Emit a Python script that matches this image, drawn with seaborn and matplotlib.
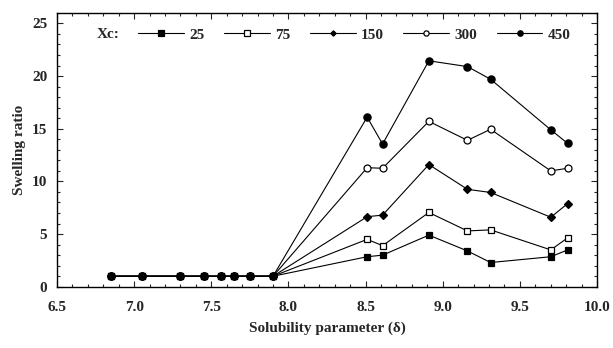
import numpy as np
import pandas as pd
import seaborn as sns
import matplotlib.pyplot as plt
from matplotlib.ticker import MultipleLocator

# solubility parameters of the solvents
delta_low = [6.85, 7.05, 7.30, 7.45, 7.56, 7.65, 7.75, 7.90]
delta_high = [8.51, 8.61, 8.91, 9.16, 9.31, 9.70, 9.81]
low_ratio = [1.0, 1.0, 1.0, 1.0, 1.0, 1.0, 1.0, 1.0]

xc_labels = ["25", "75", "150", "300", "450"]
ratio_25 = [2.85, 3.0, 4.9, 3.4, 2.3, 2.85, 3.5]
ratio_75 = [4.5, 3.9, 7.05, 5.3, 5.4, 3.5, 4.65]
ratio_150 = [6.65, 6.8, 11.6, 9.25, 8.95, 6.6, 7.9]
ratio_300 = [11.3, 11.25, 15.7, 13.9, 14.95, 11.0, 11.25]
ratio_450 = [16.1, 13.55, 21.45, 20.9, 19.7, 14.9, 13.6]

series = [ratio_25, ratio_75, ratio_150, ratio_300, ratio_450]
markers = ["s", "s", "D", "o", "o"]
faces = ["black", "white", "black", "white", "black"]
msizes = [5, 5, 3.6, 5, 5.2]

rows = []
for lab, vals in zip(xc_labels, series):
    for x, y in zip(delta_low + delta_high, low_ratio + vals):
        rows.append({"Xc": lab, "delta": x, "ratio": y})
df = pd.DataFrame(rows)

sns.set_style("ticks")
plt.rcParams["font.family"] = ["Liberation Serif", "DejaVu Serif"]
plt.rcParams["font.weight"] = "bold"

fig = plt.figure(figsize=(6.13, 3.48), dpi=100)
ax = fig.add_axes([0.093, 0.176, 0.881, 0.787])

for lab, m, fc, ms in zip(xc_labels, markers, faces, msizes):
    sns.lineplot(data=df[df["Xc"] == lab], x="delta", y="ratio", ax=ax,
                 color="black", linewidth=0.8, marker=m, markersize=ms,
                 markerfacecolor=fc, markeredgecolor="black",
                 markeredgewidth=0.9, errorbar=None, sort=False, label=lab)

ax.set_xlim(6.5, 10.0)
ax.set_ylim(0, 26)
ax.xaxis.set_major_locator(MultipleLocator(0.5))
ax.xaxis.set_minor_locator(MultipleLocator(0.1))
ax.set_yticks([0, 5, 10, 15, 20, 25])
ax.yaxis.set_minor_locator(MultipleLocator(1))
ax.xaxis.set_major_formatter(plt.FuncFormatter(lambda v, p: f"{v:.1f}"))
ax.tick_params(which="both", direction="in", top=True, right=True,
               labelsize=11, width=0.8)
ax.tick_params(which="major", length=4)
ax.tick_params(which="minor", length=2)
ax.tick_params(axis="x", which="major", pad=10)
ax.tick_params(axis="y", which="major", pad=7)
for s in ax.spines.values():
    s.set_linewidth(1.0)
    s.set_color("black")

ax.set_xlabel("Solubility parameter (δ)", fontsize=11, fontweight="bold", labelpad=6)
ax.set_ylabel("Swelling ratio", fontsize=11, fontweight="bold", labelpad=4)

ax.text(0.074, 0.92, "Xc:", transform=ax.transAxes, fontsize=11,
        fontweight="bold", va="center", ha="left")
ax.legend(loc="center left", bbox_to_anchor=(0.150, 0.92), ncol=5, frameon=False,
          fontsize=11, handlelength=3.0, handletextpad=0.35, columnspacing=1.27,
          markerscale=0.75, borderaxespad=0, borderpad=0)

fig.savefig("out.png", dpi=100)
